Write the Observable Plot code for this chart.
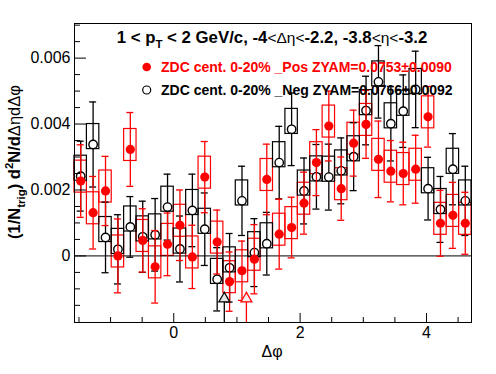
<!DOCTYPE html>
<html><head><meta charset="utf-8">
<script src="https://cdn.jsdelivr.net/npm/d3@7"></script>
<script src="https://cdn.jsdelivr.net/npm/@observablehq/plot@0.6"></script>
<style>html,body{margin:0;padding:0;background:#fff} svg{display:block}</style>
</head><body><div id="chart"></div>
<script>
// ---- data (y values in units of 1e-3) ----
const valueUnit = 1e-3;
const binCenters = [-1.4726,-1.2763,-1.0799,-0.8836,-0.6872,-0.4909,-0.2945,-0.0982,
  0.0982,0.2945,0.4909,0.6872,0.8836,1.0799,1.2763,1.4726,
  1.6690,1.8653,2.0617,2.2580,2.4544,2.6507,2.8471,3.0434,
  3.2398,3.4361,3.6325,3.8288,4.0252,4.2215,4.4179,4.6142];
const binHalfWidth = 0.0982;
const posValues = [2.27,1.31,1.97,0.00,3.23,0.47,-0.33,0.35,0.93,-0.03,2.39,0.42,-0.78,-0.45,-0.10,2.32,
  0.66,0.86,1.60,2.83,3.94,2.04,3.42,3.99,2.93,2.57,2.50,2.63,4.22,0.99,1.23,0.99];
const posErrors = [1.10,1.10,1.05,1.12,1.12,0.96,1.10,0.95,1.07,0.96,1.08,0.97,0.90,0.90,1.05,1.07,
  1.06,0.92,0.94,1.00,1.06,0.96,1.00,1.03,1.16,0.93,0.95,1.03,0.92,1.00,1.00,0.94];
const posSys = [0.35, 0.62];   // box below / above the point
const negValues = [2.42,3.38,0.56,0.20,0.88,0.58,0.64,1.48,0.21,1.38,0.81,-0.71,-0.36,1.67,0.10,0.37,
  2.83,3.84,1.97,2.40,2.39,2.58,3.01,4.41,5.28,4.01,4.39,5.05,2.04,1.41,2.63,1.67];
const negErrors = [1.06,1.29,1.07,1.05,0.92,1.08,1.10,1.00,1.00,1.10,1.10,0.96,1.04,1.05,1.03,0.95,
  1.10,1.10,1.00,0.98,1.00,1.00,1.03,1.04,1.10,1.13,1.10,1.16,0.95,1.00,1.08,1.05];
const negSys = [0.14, 0.62];
// ZYAM minimum markers (arrows)
const zyamX = [0.80, 1.15];
const zyamColor = ["black", "red"];
const zyamFill = ["#e4e4e4", "#fff0f0"];
const arrowCenter = -1.30, arrowTip = -1.10;

const xDomain = [-Math.PI/2, 1.5*Math.PI];
const yDomain = [-0.00202, 0.00705];
const xMajor = [0, 2, 4];
const xMinor = [-1.5,-1,-0.5,0.5,1,1.5,2.5,3,3.5,4.5];
const yMajor = [0, 0.002, 0.004, 0.006];
const yMinor = [-0.0015,-0.001,-0.0005,0.0005,0.001,0.0015,0.0025,0.003,0.0035,0.0045,0.005,0.0055,0.0065,0.007];

const toRows = (vals, errs, sys) => binCenters.map((x, i) => ({
  x, y: vals[i]*valueUnit, lo: (vals[i]-errs[i])*valueUnit, hi: (vals[i]+errs[i])*valueUnit,
  sLo: (vals[i]-sys[0])*valueUnit, sHi: (vals[i]+sys[1])*valueUnit
}));
const pos = toRows(posValues, posErrors, posSys);
const neg = toRows(negValues, negErrors, negSys);
const arrows = zyamX.map((x, i) => ({x, c: arrowCenter*valueUnit, tip: arrowTip*valueUnit, color: zyamColor[i], fill: zyamFill[i]}));

const RED = "#ff0000";
function seriesMarks(rows, color, dotOpts) {
  return [
    Plot.ruleX(rows, {x: "x", y1: "lo", y2: "hi", stroke: color, strokeWidth: 1.3}),
    Plot.ruleY(rows, {y: "hi", x1: "x", x2: "x", insetLeft: -3.5, insetRight: -3.5, stroke: color, strokeWidth: 1.3}),
    Plot.ruleY(rows, {y: "lo", x1: "x", x2: "x", insetLeft: -3.5, insetRight: -3.5, stroke: color, strokeWidth: 1.3}),
    Plot.dot(rows, {x: "x", y: "y", ...dotOpts})
  ];
}
function boxMarks(rows, color) {
  return Plot.rect(rows, {x1: d => d.x - binHalfWidth, x2: d => d.x + binHalfWidth, y1: "sLo", y2: "sHi",
    inset: 0, fill: "none", stroke: color, strokeWidth: 1.2});
}

const chart = Plot.plot({
  width: 496, height: 374,
  marginLeft: 74, marginRight: 25, marginTop: 23, marginBottom: 52,
  x: {domain: xDomain},
  y: {domain: yDomain},
  style: {fontFamily: "'Liberation Sans', Arial, sans-serif", background: "white", color: "black"},
  marks: [
    boxMarks(pos, RED),
    boxMarks(neg, "black"),
    Plot.ruleY([0], {stroke: "black", strokeWidth: 1}),
    ...seriesMarks(neg, "black", {r: 4.2, fill: "white", stroke: "black", strokeWidth: 1.4}),
    ...seriesMarks(pos, RED, {r: 4.6, fill: RED}),
    Plot.ruleX(arrows, {x: "x", y1: yDomain[0], y2: "tip", stroke: "color", strokeWidth: 1.3}),
    Plot.dot(arrows, {x: "x", y: "c", symbol: "triangle", r: 4.1, fill: "fill", stroke: "color", strokeWidth: 1.2}),
    // ticks (inward, ROOT style)
    Plot.ruleY(yMajor, {y: d => d, x1: xDomain[0], x2: xDomain[0], insetRight: -12, stroke: "black"}),
    Plot.ruleY(yMinor, {y: d => d, x1: xDomain[0], x2: xDomain[0], insetRight: -6, stroke: "black"}),
    Plot.ruleX(xMajor, {x: d => d, y1: yDomain[0], y2: yDomain[0], insetTop: -9, stroke: "black"}),
    Plot.ruleX(xMinor, {x: d => d, y1: yDomain[0], y2: yDomain[0], insetTop: -5, stroke: "black"}),
    Plot.axisY({ticks: yMajor, tickSize: 0, tickPadding: 4, fontSize: 16, label: null,
      tickFormat: d => d === 0 ? "0" : d3.format(".3f")(d)}),
    Plot.axisX({ticks: xMajor, tickSize: 0, tickPadding: 4, fontSize: 16, label: null, tickFormat: d => String(d)}),
    Plot.frame({stroke: "black", strokeWidth: 1})
  ]
});
document.getElementById("chart").appendChild(chart);

// ---- texts: title, legend, axis titles ----
const svg = d3.select(chart);
const FONT = "'Liberation Sans', Arial, sans-serif";
function addText(parts, x, y, opts = {}) {
  const t = svg.append("text").attr("x", x).attr("y", y)
    .attr("font-family", FONT).attr("font-size", opts.size || 16)
    .attr("font-weight", opts.weight || "bold").attr("fill", opts.color || "black")
    .attr("text-anchor", opts.anchor || "start");
  if (opts.transform) t.attr("transform", opts.transform);
  for (const p of parts) {
    const s = t.append("tspan").text(p.t);
    if (p.size) s.attr("font-size", p.size);
    if (p.weight) s.attr("font-weight", p.weight);
    if (p.dy) s.attr("dy", p.dy);
  }
  return t;
}
// title
addText([
  {t: "1 < p"}, {t: "T", size: 11.5, dy: 5}, {t: " < 2 GeV/c, -4", dy: -5},
  {t: "<Δη<", size: 15.5, weight: "normal"}, {t: "-2.2, -3.8"},
  {t: "<η<", size: 15.5, weight: "normal"}, {t: "-3.2"}
], 272, 43, {anchor: "middle", size: 16.8});

// legend
const legendRows = [
  {label: "ZDC cent. 0-20% _Pos ZYAM=0.0753±0.0090", color: RED, fill: RED, y: 67},
  {label: "ZDC cent. 0-20% _Neg ZYAM=0.0766±0.0092", color: "black", fill: "white", y: 90}
];
for (const r of legendRows) {
  svg.append("circle").attr("cx", 146.7).attr("cy", r.y).attr("r", r.fill === "white" ? 4 : 4.3)
    .attr("fill", r.fill).attr("stroke", r.color).attr("stroke-width", r.fill === "white" ? 1.2 : 0);
  addText([{t: r.label}], 161, r.y + 5, {size: 14, color: r.color});
}

// x title
addText([{t: "Δφ"}], 272, 357, {anchor: "middle", size: 16, weight: "normal"});
// y title
addText([
  {t: "(1/N"}, {t: "trig", size: 11.5, dy: 5}, {t: ") d", dy: -5},
  {t: "2", size: 11.5, dy: -7}, {t: "N/d", dy: 7},
  {t: "ΔηdΔφ", weight: "normal"}
], 0, 0, {anchor: "middle", size: 16.5, transform: "translate(20,162) rotate(-90)"});
</script></body></html>
